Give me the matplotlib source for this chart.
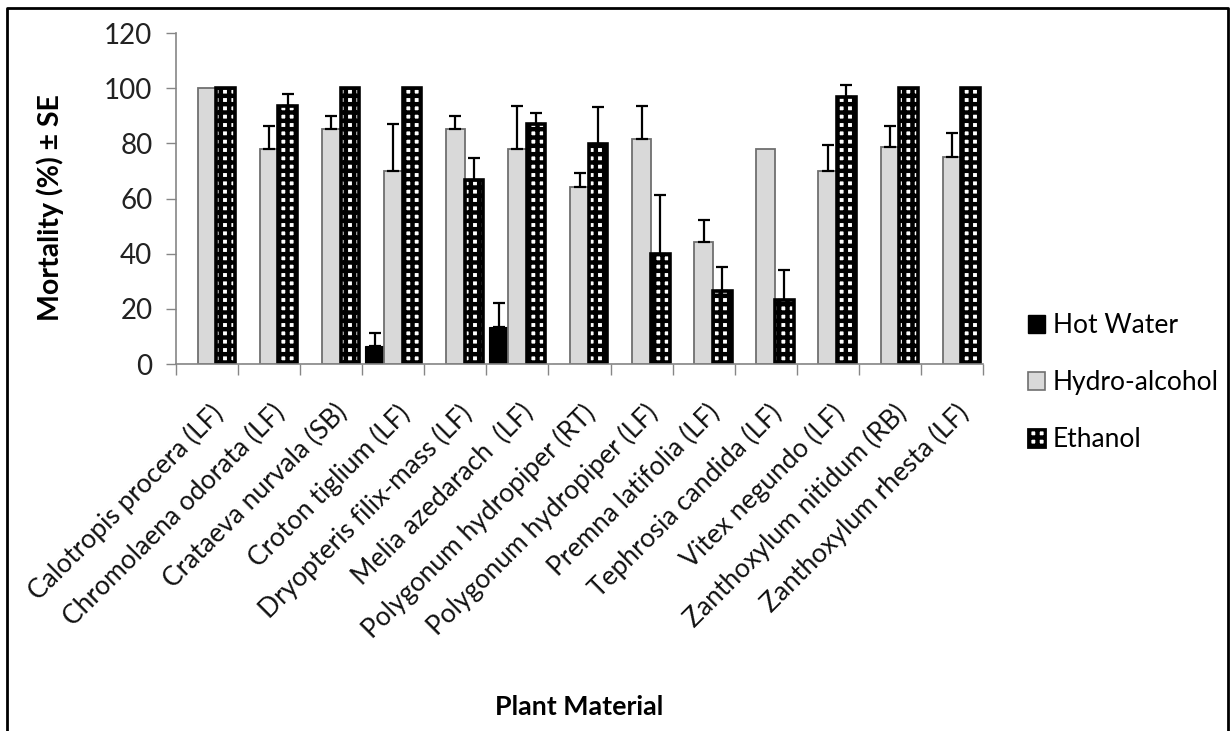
import matplotlib
matplotlib.use("Agg")
import matplotlib.pyplot as plt
import numpy as np
from matplotlib.patches import Rectangle
from matplotlib.lines import Line2D

plt.rcParams['font.family'] = ['Lato', 'DejaVu Sans']
plt.rcParams['hatch.linewidth'] = 3.2

categories = ["Calotropis procera (LF)", "Chromolaena odorata (LF)", "Crataeva nurvala (SB)",
              "Croton tiglium (LF)", "Dryopteris filix-mass (LF)", "Melia azedarach  (LF)",
              "Polygonum hydropiper (RT)", "Polygonum hydropiper (LF)", "Premna latifolia (LF)",
              "Tephrosia candida (LF)", "Vitex negundo (LF)", "Zanthoxylum nitidum (RB)",
              "Zanthoxylum rhesta (LF)"]
series_names = ["Hot Water", "Hydro-alcohol", "Ethanol"]
hot_water = [0, 0, 0, 6.7, 0, 13.3, 0, 0, 0, 0, 0, 0, 0]
hot_water_se = [0, 0, 0, 4.7, 0, 8.8, 0, 0, 0, 0, 0, 0, 0]
hydro_alcohol = [100, 77.8, 85.2, 70.0, 85.2, 77.8, 64.0, 81.5, 44.4, 77.8, 70.0, 78.5, 75.0]
hydro_alcohol_se = [0, 8.5, 4.6, 17.0, 4.6, 15.7, 5.1, 12.1, 7.9, 0, 9.5, 7.8, 8.7]
ethanol = [100, 93.6, 100, 100, 66.7, 87.0, 79.6, 40.0, 26.5, 23.3, 96.7, 100, 100]
ethanol_se = [0, 4.3, 0, 0, 8.1, 3.9, 13.7, 21.4, 8.5, 10.6, 4.5, 0, 0]
yticks = [0, 20, 40, 60, 80, 100, 120]

W, H = 1231, 731
fig = plt.figure(figsize=(W/100, H/100), dpi=100)
ax = fig.add_axes([176/W, 1-364/H, (983-176)/W, (364-33)/H])

x = np.arange(len(categories))
bw = 0.3
ax.bar(x - bw, hot_water, bw, color='black', edgecolor='black', linewidth=0.8, zorder=2)
ax.bar(x, hydro_alcohol, bw, color='#d9d9d9', edgecolor='#6f6f6f', linewidth=1.3, zorder=2)
ax.bar(x + bw, ethanol, bw, color='white', edgecolor='black', hatch='++', linewidth=2.6, zorder=2)

def errs(offset, vals, se):
    idx = [i for i in range(len(vals)) if se[i] > 0]
    xs = [x[i] + offset for i in idx]
    ys = [vals[i] for i in idx]
    es = [se[i] for i in idx]
    ax.errorbar(xs, ys, yerr=[[0]*len(es), es], fmt='none', ecolor='black',
                elinewidth=1.6, capsize=4.5, capthick=1.6, zorder=3)

errs(-bw, hot_water, hot_water_se)
errs(0, hydro_alcohol, hydro_alcohol_se)
errs(bw, ethanol, ethanol_se)

ax.set_xlim(-0.5, len(categories) - 0.5)
ax.set_ylim(0, 120)
ax.set_yticks(yticks)
ax.set_yticklabels([str(t) for t in yticks], fontsize=20, color='#222222')
ax.tick_params(axis='y', length=7, width=1, color='#868686', pad=10)
ax.set_xticks(np.arange(len(categories) + 1) - 0.5, minor=True)
ax.tick_params(axis='x', which='minor', length=8, width=1, color='#868686')
ax.set_xticks(x)
ax.set_xticklabels([])
ax.tick_params(axis='x', which='major', length=0)
for i, c in enumerate(categories):
    ax.annotate(c, xy=(x[i], 0), xycoords=('data', 'axes fraction'),
                xytext=(3, -36), textcoords='offset pixels',
                rotation=45, rotation_mode='anchor', ha='right', va='top',
                fontsize=19, color='#111111')

for s in ['top', 'right']:
    ax.spines[s].set_visible(False)
for s in ['left', 'bottom']:
    ax.spines[s].set_color('#868686')
    ax.spines[s].set_linewidth(1.2)

fig.text(50/W, 1-208/H, "Mortality (%) ± SE", rotation=90, ha='center', va='center',
         fontsize=20.5, fontweight='bold')
fig.text(579/W, 1-707/H, "Plant Material", ha='center', va='center',
         fontsize=19.3, fontweight='bold')

handles = [Rectangle((0, 0), 1, 1, facecolor='black', edgecolor='black'),
           Rectangle((0, 0), 1, 1, facecolor='#d9d9d9', edgecolor='#6f6f6f', linewidth=1.2),
           Rectangle((0, 0), 1, 1, facecolor='white', edgecolor='black', hatch='++', linewidth=2)]
fig.legend(handles, series_names, loc='upper left', bbox_to_anchor=(1028/W, 1-313/H),
           frameon=False, fontsize=19, handlelength=0.65, handleheight=0.65,
           handletextpad=0.28, labelspacing=1.22, borderaxespad=0, borderpad=0)

fig.add_artist(Line2D([7/W, 7/W, 1228/W, 1228/W], [0, 1-8/H, 1-8/H, 0],
                      transform=fig.transFigure, color='black', linewidth=2))

fig.savefig("out.png", dpi=100)
